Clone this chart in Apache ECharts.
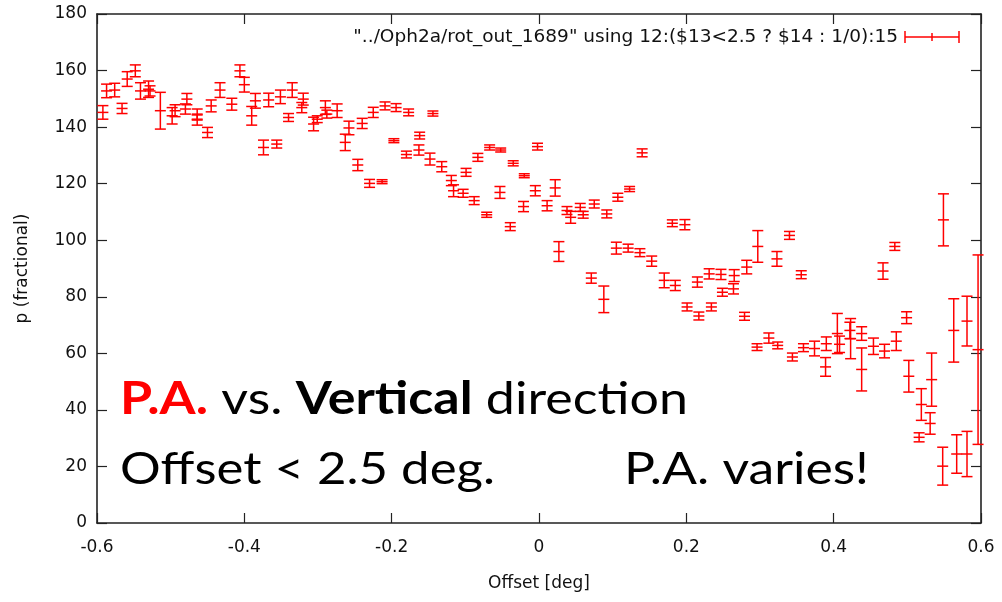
<!DOCTYPE html>
<html><head><meta charset="utf-8">
<script src="https://cdn.jsdelivr.net/npm/echarts@6/dist/echarts.min.js"></script>
<style>html,body{margin:0;padding:0;background:#fff}#c{width:1002px;height:602px}</style>
</head><body><div id="c"></div><script>
// ---- data ----
const xTickLabels = ['-0.6','-0.4','-0.2','0','0.2','0.4','0.6'];
const yTickLabels = ['0','20','40','60','80','100','120','140','160','180'];
const seriesName = '"../Oph2a/rot_out_1689" using 12:($13<2.5 ? $14 : 1/0):15';
const offsets = [-0.592,-0.587,-0.576,-0.566,-0.559,-0.548,-0.541,-0.530,-0.528,-0.514,
-0.498,-0.494,-0.480,-0.478,-0.464,-0.464,-0.450,-0.445,-0.433,-0.417,
-0.406,-0.400,-0.390,-0.385,-0.374,-0.367,-0.356,-0.351,-0.340,-0.335,
-0.322,-0.320,-0.306,-0.301,-0.290,-0.288,-0.274,-0.263,-0.258,-0.246,
-0.240,-0.230,-0.225,-0.213,-0.209,-0.197,-0.194,-0.180,-0.177,-0.163,
-0.162,-0.148,-0.144,-0.132,-0.119,-0.116,-0.103,-0.099,-0.088,-0.083,
-0.071,-0.067,-0.053,-0.052,-0.039,-0.035,-0.021,-0.020,-0.005,-0.002,
0.011,0.022,0.027,0.038,0.043,0.056,0.060,0.071,0.075,0.088,
0.092,0.105,0.107,0.121,0.123,0.137,0.140,0.153,0.170,0.181,
0.185,0.198,0.201,0.215,0.217,0.231,0.234,0.247,0.249,0.264,
0.265,0.279,0.282,0.296,0.297,0.312,0.323,0.324,0.340,0.344,
0.356,0.359,0.374,0.389,0.390,0.405,0.408,0.422,0.423,0.438,
0.438,0.454,0.467,0.469,0.483,0.485,0.499,0.502,0.516,0.519,
0.531,0.533,0.548,0.549,0.563,0.567,0.581,0.581,0.596];
const pValues = [145.2,152.8,153.1,146.6,157.0,159.9,152.8,153.4,152.8,145.8,
144.0,145.8,146.4,149.9,144.6,142.5,138.1,147.5,153.1,148.1,
159.9,155.0,144.0,149.3,132.8,149.6,134.0,150.7,143.4,153.1,
146.9,149.9,141.1,142.8,146.9,144.6,145.8,134.6,139.7,126.6,
141.3,120.1,145.2,120.7,147.5,135.2,146.9,130.3,145.2,131.9,
137.0,128.7,144.8,126.0,121.1,117.5,116.6,124.0,114.0,129.3,
109.0,132.8,116.9,131.9,104.8,127.2,111.9,122.8,117.5,133.1,
112.2,118.5,96.0,110.5,108.1,111.6,109.0,86.6,112.8,79.1,
109.3,97.2,115.2,97.2,118.1,95.6,130.9,92.6,85.8,106.0,
84.0,105.5,76.4,85.2,73.2,88.1,76.4,87.9,81.6,82.8,
87.5,73.1,90.5,62.2,97.8,65.4,93.4,62.8,101.7,58.7,
87.8,62.0,61.7,55.2,63.4,67.0,63.2,68.1,65.2,67.0,
54.3,62.5,89.1,60.8,97.8,64.3,72.6,51.9,30.3,41.9,
35.2,50.7,20.1,107.2,68.1,24.4,71.4,24.4,61.3];
const pErrors = [2.4,2.4,2.4,1.8,2.6,2.1,2.9,2.9,1.8,6.5,
2.9,2.1,1.8,2.0,1.8,1.8,1.8,2.1,2.6,2.1,
2.1,2.6,3.3,2.6,2.6,2.4,1.4,2.4,1.4,2.6,
1.8,2.1,2.4,1.2,2.4,1.4,2.4,2.9,2.4,2.0,
1.8,1.4,1.8,0.7,1.4,0.7,1.4,1.2,1.2,1.8,
1.2,2.1,0.9,1.8,1.8,2.1,1.4,1.4,1.4,1.4,
0.9,0.9,2.1,0.7,1.4,0.9,1.8,0.7,1.8,1.2,
1.8,2.9,3.5,1.4,2.1,1.4,1.2,1.8,1.4,4.7,
1.4,2.1,1.4,1.4,0.9,1.4,1.4,1.8,2.6,1.2,
1.8,1.8,1.4,1.8,1.4,1.8,1.4,1.8,1.4,1.8,
2.1,1.4,2.4,1.2,5.6,1.8,2.6,1.2,1.4,1.4,
1.4,1.4,2.6,3.3,2.4,7.1,2.9,2.9,7.1,2.4,
7.6,2.9,2.9,2.4,1.4,3.3,2.1,5.6,1.6,5.6,
3.8,9.4,6.7,9.2,11.2,6.8,8.8,8.0,33.5];
const annot1 = [{t:'P.A.', bold:true},{t:' vs. '},{t:'Vertical', bold:true},{t:' direction'}];
const annot2 = 'Offset < 2.5 deg.';
const annot3 = 'P.A. varies!';

// ---- chart ----
const RED = '#ff0000';
const AXC = '#222222';
const TXT = '#111111';
const TF = 'DejaVu Sans';
const TFS = 17;
const LFS = 18.5;
const BIGF = 'Lato';
const BIGFS = 45;

const data = offsets.map((x, i) => [x, pValues[i], pErrors[i]]);

const mctx = document.createElement('canvas').getContext('2d');
function measure(parts){
  let w = 0;
  parts.forEach(p => { mctx.font = (p.bold ? 'bold ' : '') + BIGFS + 'px ' + BIGF; w += mctx.measureText(p.t).width; });
  return w;
}
const s1 = 568 / measure(annot1);
const s2 = 375 / measure([{t:annot2}]);
const s3 = 245 / measure([{t:annot3}]);

const chart = echarts.init(document.getElementById('c'), null, {renderer:'canvas'});
const axisCommon = {
  axisLine:{show:true, onZero:false, lineStyle:{color:AXC, width:1.6}},
  axisTick:{show:true, inside:true, length:10, lineStyle:{color:AXC, width:1.2}},
  splitLine:{show:false}
};
chart.setOption({
  animation:false,
  backgroundColor:'#ffffff',
  grid:{left:97, right:21, top:14, bottom:79, containLabel:false},
  xAxis:[
    Object.assign({type:'value', min:-0.6, max:0.6, interval:0.2, position:'bottom',
      name:'Offset [deg]', nameLocation:'middle', nameGap:52,
      nameTextStyle:{fontFamily:TF, fontSize:TFS, color:TXT},
      axisLabel:{margin:16, fontFamily:TF, fontSize:TFS, color:TXT,
        formatter:v => xTickLabels[Math.round((v + 0.6) / 0.2)]}}, axisCommon),
    Object.assign({type:'value', min:-0.6, max:0.6, interval:0.2, position:'top',
      axisLabel:{show:false}}, axisCommon)
  ],
  yAxis:[
    Object.assign({type:'value', min:0, max:180, interval:20, position:'left',
      name:'p (fractional)', nameLocation:'middle', nameGap:66, nameRotate:90,
      nameTextStyle:{fontFamily:TF, fontSize:TFS, color:TXT},
      axisLabel:{margin:10, fontFamily:TF, fontSize:TFS, color:TXT,
        formatter:v => yTickLabels[Math.round(v / 20)]}}, axisCommon),
    Object.assign({type:'value', min:0, max:180, interval:20, position:'right',
      axisLabel:{show:false}}, axisCommon)
  ],
  series:[{
    type:'custom', name:seriesName, data:data, clip:false,
    renderItem:function(params, api){
      const x = api.value(0), y = api.value(1), e = api.value(2);
      const c = api.coord([x, y]);
      const hi = api.coord([x, y + e]);
      const lo = api.coord([x, y - e]);
      const hw = 5.5;
      const st = {stroke:RED, lineWidth:1.5};
      return {type:'group', children:[
        {type:'line', shape:{x1:c[0], y1:hi[1], x2:c[0], y2:lo[1]}, style:st},
        {type:'line', shape:{x1:c[0]-hw, y1:hi[1], x2:c[0]+hw, y2:hi[1]}, style:st},
        {type:'line', shape:{x1:c[0]-hw, y1:lo[1], x2:c[0]+hw, y2:lo[1]}, style:st},
        {type:'line', shape:{x1:c[0]-hw, y1:c[1], x2:c[0]+hw, y2:c[1]}, style:st}
      ]};
    }
  }],
  graphic:[
    {type:'text', x:898, y:37, z:10, style:{text:seriesName, align:'right', verticalAlign:'middle',
      fontFamily:TF, fontSize:LFS, fill:TXT}},
    {type:'line', shape:{x1:905, y1:37, x2:959, y2:37}, style:{stroke:RED, lineWidth:1.5}},
    {type:'line', shape:{x1:905, y1:31, x2:905, y2:43}, style:{stroke:RED, lineWidth:1.5}},
    {type:'line', shape:{x1:959, y1:31, x2:959, y2:43}, style:{stroke:RED, lineWidth:1.5}},
    {type:'line', shape:{x1:932, y1:33, x2:932, y2:41}, style:{stroke:RED, lineWidth:1.5}},
    {type:'text', x:120, y:399, scaleX:s1, z:20, style:{
      text:'{r|P.A.} vs. {b|Vertical} direction', align:'left', verticalAlign:'middle',
      fontFamily:BIGF, fontSize:BIGFS, fill:'#000',
      rich:{r:{fontFamily:BIGF, fontSize:BIGFS, fontWeight:'bold', fill:RED},
            b:{fontFamily:BIGF, fontSize:BIGFS, fontWeight:'bold', fill:'#000'}}}},
    {type:'text', x:120, y:469.5, scaleX:s2, z:20, style:{text:annot2, align:'left', verticalAlign:'middle',
      fontFamily:BIGF, fontSize:BIGFS, fill:'#000'}},
    {type:'text', x:624, y:469.5, scaleX:s3, z:20, style:{text:annot3, align:'left', verticalAlign:'middle',
      fontFamily:BIGF, fontSize:BIGFS, fill:'#000'}}
  ]
});
</script></body></html>
